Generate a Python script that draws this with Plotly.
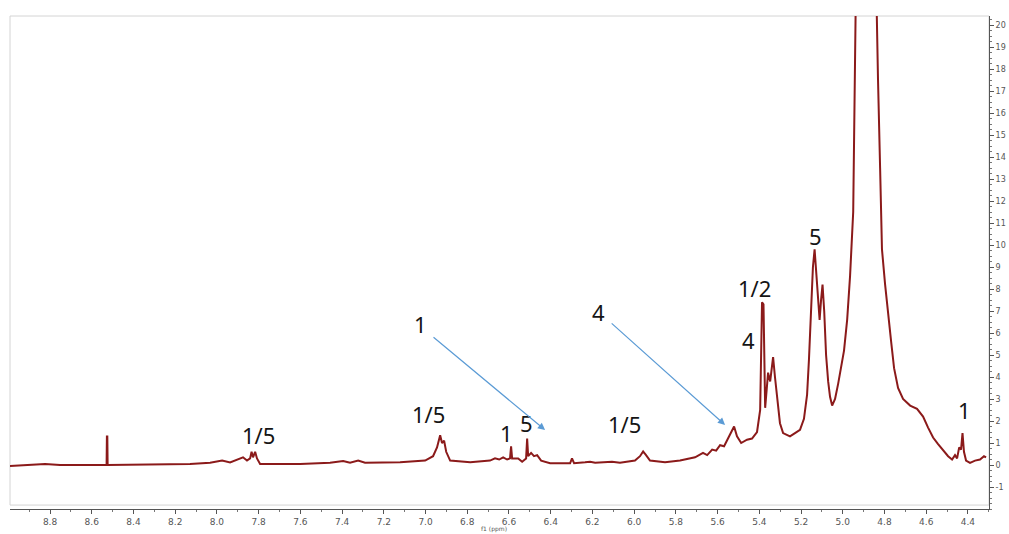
import plotly.graph_objects as go

# 1H NMR trace: chemical shift (ppm) and intensity
ppm = [8.992, 8.896, 8.824, 8.752, 8.560, 8.529, 8.5275, 8.5255, 8.524, 8.321,
       8.129, 8.033, 7.975, 7.937, 7.899, 7.875, 7.856, 7.841, 7.834, 7.827,
       7.817, 7.808, 7.793, 7.601, 7.458, 7.395, 7.362, 7.323, 7.290, 7.122,
       7.002, 6.964, 6.945, 6.930, 6.921, 6.911, 6.901, 6.882, 6.786, 6.691,
       6.667, 6.647, 6.628, 6.609, 6.595, 6.590, 6.585, 6.556, 6.537, 6.518,
       6.513, 6.508, 6.494, 6.480, 6.465, 6.446, 6.403, 6.307, 6.298, 6.288,
       6.235, 6.211, 6.187, 6.140, 6.106, 6.068, 5.996, 5.972, 5.957, 5.943,
       5.924, 5.852, 5.780, 5.708, 5.670, 5.650, 5.626, 5.607, 5.588, 5.569,
       5.550, 5.535, 5.521, 5.507, 5.487, 5.459, 5.435, 5.411, 5.396, 5.387,
       5.380, 5.372, 5.358, 5.348, 5.334, 5.325, 5.315, 5.301, 5.286, 5.267,
       5.253, 5.229, 5.205, 5.186, 5.171, 5.162, 5.152, 5.143, 5.135, 5.128,
       5.118, 5.111, 5.104, 5.097, 5.089, 5.080, 5.070, 5.061, 5.051, 5.037,
       5.022, 5.008, 4.994, 4.979, 4.965, 4.950, 4.941, 4.931, 4.917, 4.888,
       4.860, 4.840, 4.831, 4.821, 4.812, 4.797, 4.783, 4.768, 4.754, 4.735,
       4.711, 4.677, 4.644, 4.615, 4.591, 4.567, 4.543, 4.519, 4.495, 4.476,
       4.462, 4.452, 4.442, 4.433, 4.426, 4.419, 4.409, 4.390, 4.366, 4.342,
       4.323, 4.313]
intensity = [-0.05, 0.0, 0.05, 0.0, 0.0, 0.0, 1.3, 1.3, 0.0, 0.02,
             0.05, 0.1, 0.2, 0.12, 0.25, 0.35, 0.2, 0.3, 0.6, 0.35,
             0.6, 0.3, 0.05, 0.05, 0.1, 0.18, 0.1, 0.2, 0.1, 0.12,
             0.2, 0.4, 0.8, 1.35, 1.0, 1.1, 0.6, 0.2, 0.12, 0.2,
             0.3, 0.25, 0.35, 0.25, 0.3, 0.85, 0.3, 0.3, 0.15, 0.3,
             1.2, 0.4, 0.55, 0.4, 0.45, 0.2, 0.08, 0.08, 0.3, 0.08,
             0.12, 0.15, 0.1, 0.12, 0.15, 0.1, 0.2, 0.4, 0.62, 0.45,
             0.2, 0.12, 0.2, 0.35, 0.55, 0.45, 0.7, 0.65, 0.9, 0.85,
             1.2, 1.5, 1.75, 1.3, 1.0, 1.15, 1.2, 1.5, 2.5, 7.4,
             7.3, 2.6, 4.2, 3.8, 4.9, 4.0, 3.1, 1.9, 1.45, 1.35,
             1.3, 1.45, 1.6, 2.1, 3.2, 4.8, 6.9, 9.0, 9.8, 8.8,
             7.6, 6.6, 7.5, 8.2, 7.0, 5.0, 3.8, 3.1, 2.7, 3.0,
             3.7, 4.4, 5.2, 6.6, 8.6, 11.5, 16.0, 21.0, 32.0, 60.0,
             32.0, 21.0, 17.5, 13.5, 9.8, 8.2, 6.8, 5.6, 4.4, 3.5,
             3.0, 2.7, 2.55, 2.2, 1.7, 1.25, 0.95, 0.65, 0.4, 0.25,
             0.45, 0.3, 0.8, 0.7, 1.45, 0.6, 0.2, 0.1, 0.2, 0.25,
             0.4, 0.35]

# Peak assignment labels
label_text = ["1/5", "1/5", "1", "5", "1/5", "1/2", "4", "5", "1", "1", "4"]
label_ppm = [7.803, 6.988, 6.614, 6.518, 6.048, 5.425, 5.454, 5.133, 4.418, 7.025, 6.173]
label_y = [1.36, 2.3, 1.45, 1.9, 1.86, 8.05, 5.7, 10.4, 2.5, 6.4, 6.95]

# Pointer arrows (tail -> head)
arrow_tail_ppm = [6.969, 6.115]
arrow_tail_y = [5.86, 6.5]
arrow_head_ppm = [6.427, 5.564]
arrow_head_y = [1.59, 1.82]

x_ticks = [8.8, 8.6, 8.4, 8.2, 8.0, 7.8, 7.6, 7.4, 7.2, 7.0, 6.8, 6.6, 6.4,
           6.2, 6.0, 5.8, 5.6, 5.4, 5.2, 5.0, 4.8, 4.6, 4.4]
y_ticks = list(range(-1, 21))

fig = go.Figure()
fig.add_trace(go.Scatter(
    x=ppm, y=intensity, mode="lines",
    line=dict(color="#8b1a1a", width=2),
    showlegend=False, hoverinfo="skip",
))

for t, xv, yv in zip(label_text, label_ppm, label_y):
    fig.add_annotation(x=xv, y=yv, xref="x", yref="y", text=t, showarrow=False,
                       font=dict(family="Noto Sans", size=22, color="#151515"))

for tx, ty, hx, hy in zip(arrow_tail_ppm, arrow_tail_y, arrow_head_ppm, arrow_head_y):
    fig.add_annotation(x=hx, y=hy, ax=tx, ay=ty, xref="x", yref="y",
                       axref="x", ayref="y", text="", showarrow=True,
                       arrowhead=2, arrowsize=1.2, arrowwidth=1.2,
                       arrowcolor="#5b9bd5")

fig.add_annotation(x=0.494, y=-0.0507, xref="paper", yref="paper", yanchor="bottom",
                   text="f1 (ppm)", showarrow=False, borderpad=0,
                   font=dict(family="DejaVu Sans", size=6, color="#555555"))

# light frame around the spectrum area
fig.add_shape(type="rect", xref="paper", yref="paper", x0=0, x1=1, y0=0.008, y1=1,
              line=dict(color="#d4d4d4", width=1), layer="below")

fig.update_layout(
    width=1009, height=534,
    margin=dict(l=10, r=20, t=16, b=25, autoexpand=False),
    paper_bgcolor="white", plot_bgcolor="white",
    xaxis=dict(
        range=[8.992, 4.299], tickvals=x_ticks, ticktext=[f"{v:.1f}" for v in x_ticks],
        showgrid=False, zeroline=False, showline=True, linecolor="#555555", linewidth=1,
        ticks="outside", ticklen=4, tickcolor="#555555", automargin=False,
        ticklabelstandoff=0,
        minor=dict(dtick=0.1, ticks="outside", ticklen=2, tickcolor="#777777"),
        tickfont=dict(family="DejaVu Sans", size=9, color="#555555"),
    ),
    yaxis=dict(
        range=[-2.0, 20.41], side="right", tickvals=y_ticks,
        ticktext=[str(v) for v in y_ticks],
        showgrid=False, zeroline=False, showline=True, linecolor="#555555", linewidth=1,
        ticks="outside", ticklen=4, tickcolor="#555555", automargin=False,
        minor=dict(dtick=0.25, ticks="outside", ticklen=2, tickcolor="#777777"),
        tickfont=dict(family="DejaVu Sans", size=8, color="#555555"),
    ),
)

fig.write_html("out.html")
